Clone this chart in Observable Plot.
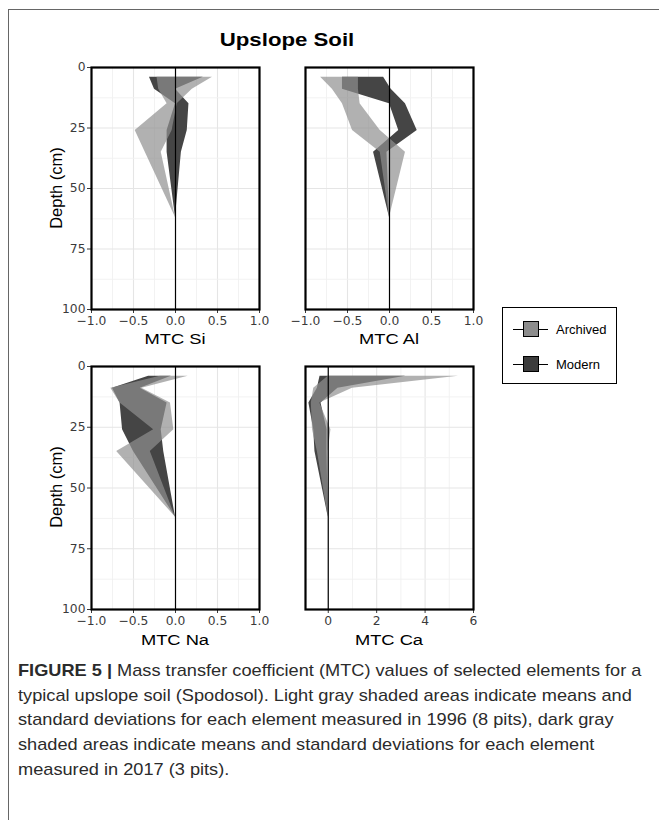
<!DOCTYPE html>
<html><head><meta charset="utf-8">
<script src="https://cdn.jsdelivr.net/npm/d3@7"></script>
<script src="https://cdn.jsdelivr.net/npm/@observablehq/plot@0.6"></script>
<style>
body{margin:0;background:#fff;}
#fig{position:relative;width:659px;height:820px;overflow:hidden;font-family:"Liberation Sans",Arial,sans-serif;background:#fff;}
.outer{position:absolute;left:8px;top:9px;width:800px;height:900px;border-top:1.5px solid #666;border-left:1.5px solid #666;}
.panel{position:absolute;}
.atitle{position:absolute;font-size:15.5px;color:#000;white-space:nowrap;transform:translate(-50%,-50%) scaleX(1.18);}
.ytitle{position:absolute;font-size:16.5px;color:#000;white-space:nowrap;transform:translate(-50%,-50%) rotate(-90deg);}
.title{position:absolute;left:287px;top:40px;font-size:18.5px;font-weight:bold;color:#000;white-space:nowrap;transform:translate(-50%,-50%) scaleX(1.2);}
.legend{position:absolute;left:502px;top:307px;width:115px;height:77px;border:1px solid #000;box-sizing:border-box;}
.lkey{position:absolute;left:10px;width:35px;height:16px;}
.lkey .ln{position:absolute;left:0;top:7.5px;width:35px;height:1px;background:#000;}
.lkey .sq{position:absolute;left:10px;top:0;width:16px;height:16px;border:1px solid #000;box-sizing:border-box;}
.ltxt{position:absolute;left:53px;font-size:13px;color:#000;white-space:nowrap;transform:translateY(-50%);}
.caption{position:absolute;left:18px;top:659px;font-size:17px;line-height:24.7px;color:#2b2b2b;white-space:nowrap;transform-origin:0 0;transform:scaleX(1.07);}
</style>
</head><body>
<div id="fig">
  <div class="outer"></div>
  <div class="title">Upslope Soil</div>
  <div class="panel" id="pSi" style="left:51px;top:57px"></div>
  <div class="panel" id="pAl" style="left:265px;top:57px"></div>
  <div class="panel" id="pNa" style="left:51px;top:356px"></div>
  <div class="panel" id="pCa" style="left:265px;top:356px"></div>
  <div class="ytitle" style="left:56px;top:188px">Depth (cm)</div>
  <div class="ytitle" style="left:56px;top:487px">Depth (cm)</div>
  <div class="atitle" style="left:175px;top:339px">MTC Si</div>
  <div class="atitle" style="left:389px;top:339px">MTC Al</div>
  <div class="atitle" style="left:175px;top:640px">MTC Na</div>
  <div class="atitle" style="left:389px;top:640px">MTC Ca</div>
  <div class="legend">
    <div class="lkey" style="top:13px"><div class="ln"></div><div class="sq" style="background:#8c8c8c"></div></div>
    <div class="ltxt" style="top:21px">Archived</div>
    <div class="lkey" style="top:48px"><div class="ln"></div><div class="sq" style="background:#3c3c3c"></div></div>
    <div class="ltxt" style="top:56px">Modern</div>
  </div>
  <div class="caption">
    <div><b>FIGURE 5 |</b> Mass transfer coefficient (MTC) values of selected elements for a</div>
    <div>typical upslope soil (Spodosol). Light gray shaded areas indicate means and</div>
    <div>standard deviations for each element measured in 1996 (8 pits), dark gray</div>
    <div>shaded areas indicate means and standard deviations for each element</div>
    <div>measured in 2017 (3 pits).</div>
  </div>
</div>
<script>
// Depths (cm) of horizon midpoints
const depths = [4, 9, 15, 26, 35, 62];

// Si
const siArchivedLo = [-0.22, -0.20, -0.10, -0.48, -0.36, 0];
const siArchivedHi = [0.44, 0.20, 0.02, -0.04, -0.17, 0];
const siModernLo   = [-0.31, -0.25, 0.00, -0.10, -0.10, 0];
const siModernHi   = [0.33, 0.00, 0.16, 0.14, 0.07, 0];
// Al
const alArchivedLo = [-0.82, -0.68, -0.56, -0.44, -0.11, 0];
const alArchivedHi = [-0.37, -0.37, -0.35, -0.11, 0.19, 0];
const alModernLo   = [-0.56, -0.56, 0.00, 0.11, -0.19, 0];
const alModernHi   = [-0.07, 0.02, 0.19, 0.33, -0.03, 0];
// Na
const naArchivedLo = [-0.18, -0.77, -0.66, -0.26, -0.70, 0];
const naArchivedHi = [0.15, -0.40, -0.06, -0.02, -0.30, 0];
const naModernLo   = [-0.32, -0.75, -0.66, -0.63, -0.50, 0];
const naModernHi   = [-0.05, -0.42, -0.10, -0.17, -0.14, 0];
// Ca
const caArchivedLo = [0.00, -0.60, -0.70, -0.65, -0.45, 0];
const caArchivedHi = [5.38, 1.00, -0.35, 0.11, 0.00, 0];
const caModernLo   = [-0.34, -0.45, -0.80, -0.60, -0.55, 0];
const caModernHi   = [3.20, 0.40, -0.30, -0.05, -0.05, 0];

// Axis ticks
const xTicksUnit = [-1, -0.5, 0, 0.5, 1];
const xMinorUnit = [-0.75, -0.25, 0.25, 0.75];
const xTicksCa = [0, 2, 4, 6];
const xMinorCa = [1, 3, 5];
const yTicks = [0, 25, 50, 75, 100];
const yMinor = [12.5, 37.5, 62.5, 87.5];

function rows(lo, hi) {
  return depths.map((d, i) => ({depth: d, lo: lo[i], hi: hi[i]}));
}

function makePanel({xDomain, xTicks, xMinor, xFormat, showY, archived, modern, plotH}) {
  return Plot.plot({
    width: 218, height: plotH + 40,
    marginLeft: 40, marginRight: 10, marginTop: 10, marginBottom: 30,
    style: {background: "transparent", overflow: "visible", fontFamily: "'DejaVu Sans', sans-serif", fontSize: "12.3px", color: "#3a3a3a"},
    x: {domain: xDomain, ticks: xTicks, tickFormat: xFormat, tickSize: 4, tickPadding: 3, label: null},
    y: {domain: [0, 100], reverse: true, ticks: yTicks, tickSize: 4, tickPadding: 2, label: null, axis: showY ? "left" : null},
    marks: [
      Plot.ruleX(xMinor, {stroke: "#f0f0f0", strokeWidth: 0.9}),
      Plot.ruleX(xTicks, {stroke: "#e5e5e5", strokeWidth: 1.1}),
      Plot.ruleY(yMinor, {stroke: "#f0f0f0", strokeWidth: 0.9}),
      Plot.ruleY(yTicks, {stroke: "#e5e5e5", strokeWidth: 1.1}),
      Plot.areaX(modern, {y: "depth", x1: "lo", x2: "hi", fill: "#454545"}),
      Plot.areaX(archived, {y: "depth", x1: "lo", x2: "hi", fill: "#909090", fillOpacity: 0.7}),
      Plot.ruleX([0], {stroke: "#000", strokeWidth: 1.2}),
      Plot.frame({stroke: "#000", strokeWidth: 2.2})
    ]
  });
}

const f1 = d3.format(".1f");
const f0 = d3.format("d");

document.getElementById("pSi").append(makePanel({
  xDomain: [-1, 1], xTicks: xTicksUnit, xMinor: xMinorUnit, xFormat: f1, showY: true,
  archived: rows(siArchivedLo, siArchivedHi), modern: rows(siModernLo, siModernHi), plotH: 242
}));
document.getElementById("pAl").append(makePanel({
  xDomain: [-1, 1], xTicks: xTicksUnit, xMinor: xMinorUnit, xFormat: f1, showY: false,
  archived: rows(alArchivedLo, alArchivedHi), modern: rows(alModernLo, alModernHi), plotH: 242
}));
document.getElementById("pNa").append(makePanel({
  xDomain: [-1, 1], xTicks: xTicksUnit, xMinor: xMinorUnit, xFormat: f1, showY: true,
  archived: rows(naArchivedLo, naArchivedHi), modern: rows(naModernLo, naModernHi), plotH: 243
}));
document.getElementById("pCa").append(makePanel({
  xDomain: [-0.94, 6], xTicks: xTicksCa, xMinor: xMinorCa, xFormat: f0, showY: false,
  archived: rows(caArchivedLo, caArchivedHi), modern: rows(caModernLo, caModernHi), plotH: 243
}));
</script>
</body></html>
